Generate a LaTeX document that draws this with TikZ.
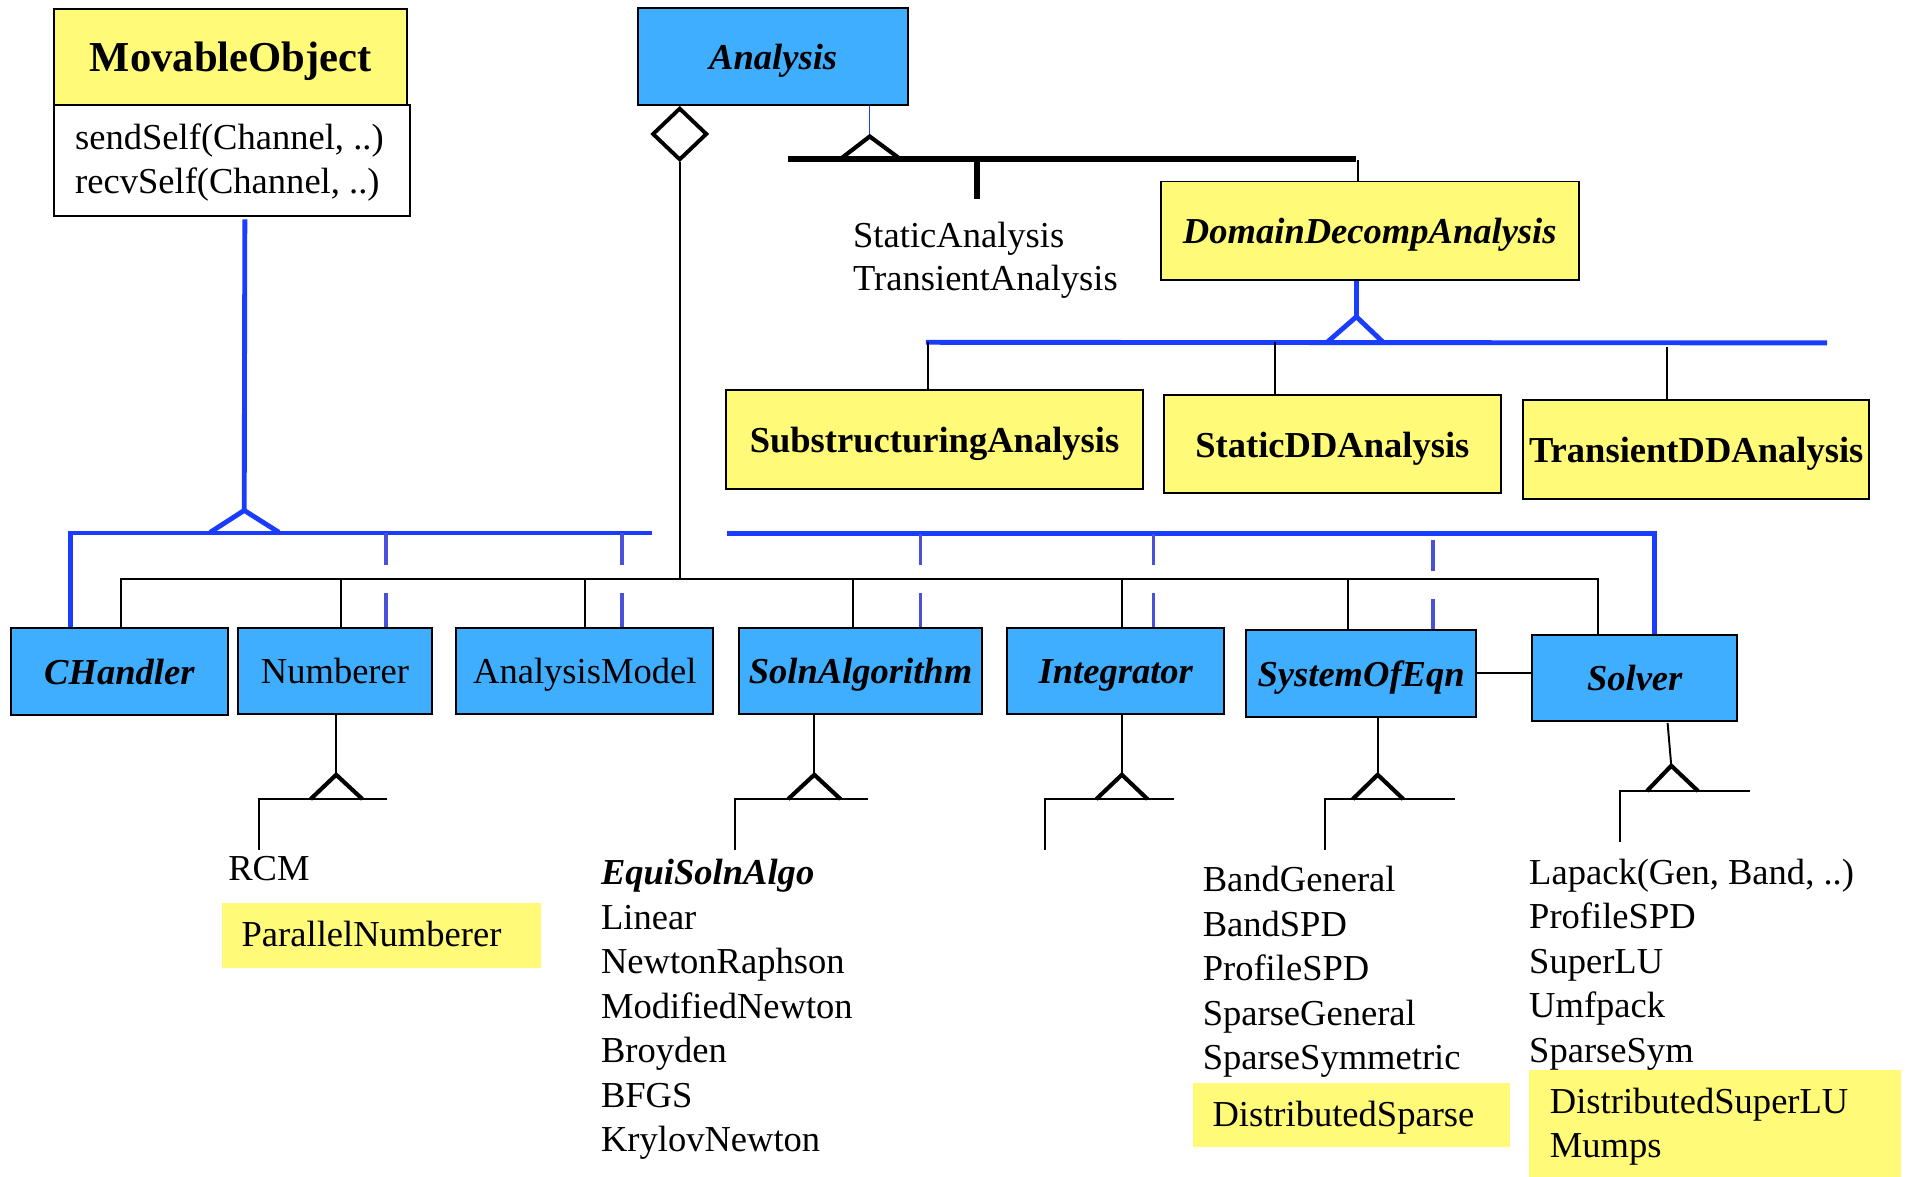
\documentclass[tikz,border=0pt]{standalone}
\usepackage{fontspec}
\setmainfont{Liberation Serif}
\usetikzlibrary{shapes.geometric}
\definecolor{ylw}{HTML}{FFFA78}
\definecolor{bbox}{HTML}{40AEFF}
\definecolor{bln}{HTML}{1A3CFF}
\definecolor{dln}{HTML}{4A50D8}
\begin{document}
\begin{tikzpicture}[x=0.5pt,y=-0.5pt,
 box/.style={draw=black, line width=0.8pt, inner sep=0pt, text height=12pt, text depth=1.5pt, font=\fontsize{15}{18}\selectfont},
 ybox/.style={box, fill=ylw},
 bbx/.style={box, fill=bbox},
 bf/.style={font=\fontsize{15}{18}\selectfont\bfseries},
 bi/.style={font=\fontsize{15}{18}\selectfont\bfseries\itshape},
 txt/.style={inner sep=0pt, anchor=base west, font=\fontsize{15}{18}\selectfont},
 yfill/.style={fill=ylw, inner sep=0pt, anchor=north west},
 thinln/.style={line width=0.8pt, black},
 thickln/.style={line width=2.3pt, black},
 triln/.style={line width=1.7pt, black, line join=miter},
 blueln/.style={line width=2pt, bln},
 bluetri/.style={line width=2pt, bln, line join=miter},
 dashln/.style={line width=1.5pt, dln, dash pattern=on 13pt off 11.5pt on 60pt},
]
\useasboundingbox (0,0) rectangle (1568,966);

% ---------- top boxes ----------
\node[ybox, font=\fontsize{17.5}{20}\selectfont\bfseries, text height=13.5pt, text depth=1.5pt, minimum width=145pt, minimum height=39.5pt] (mo) at (189.5,46.5) {MovableObject};
\node[draw=black, line width=0.8pt, inner sep=0pt, fill=white, minimum width=146pt, minimum height=45.5pt] (meth) at (190.5,131.5) {};
\node[txt] (m1) at (61.3,123) {sendSelf(Channel, ..)};
\node[txt] (m2) at (61.3,158.5) {recvSelf(Channel, ..)};
\node[bbx, bi, minimum width=110.75pt, minimum height=40pt] (an) at (634.75,46.5) {Analysis};
\node[diamond, draw=black, line width=1.6pt, fill=white, minimum width=22.5pt, minimum height=21.5pt, inner sep=0pt] (dia) at (558,110) {};
\node[ybox, bi, minimum width=171.5pt, minimum height=40.5pt] (dda) at (1124.5,189.5) {DomainDecompAnalysis};
\node[ybox, bf, minimum width=171.5pt, minimum height=40.5pt] (sub) at (767.2,361) {SubstructuringAnalysis};
\node[ybox, bf, minimum width=138.2pt, minimum height=40.35pt] (sdd) at (1093.8,364.7) {StaticDDAnalysis};
\node[ybox, bf, minimum width=142pt, minimum height=40.6pt] (tdd) at (1392.5,369) {TransientDDAnalysis};

\node[txt] (sta) at (700,203) {StaticAnalysis};
\node[txt] (tra) at (700,238.5) {TransientAnalysis};

% ---------- middle row ----------
\node[bbx, bi, minimum width=89pt, minimum height=35.6pt] (ch) at (98,551.3) {CHandler};
\node[bbx, minimum width=79.5pt, minimum height=35.3pt] (num) at (275,550.7) {Numberer};
\node[bbx, minimum width=105.6pt, minimum height=35.3pt] (am) at (480.1,550.7) {AnalysisModel};
\node[bbx, bi, minimum width=99.6pt, minimum height=35.2pt] (sa) at (706.4,550.8) {SolnAlgorithm};
\node[bbx, bi, minimum width=89pt, minimum height=35.2pt] (integ) at (916,550.8) {Integrator};
\node[bbx, bi, minimum width=94.4pt, minimum height=35.7pt] (soe) at (1117.4,552.7) {SystemOfEqn};
\node[bbx, bi, minimum width=84pt, minimum height=35.3pt] (sol) at (1342,556.7) {Solver};

% ---------- yellow backgrounds ----------
\node[yfill, minimum width=131pt, minimum height=26.5pt] (pnbg) at (182,741) {};
\node[yfill, minimum width=130.5pt, minimum height=26.3pt] (dsbg) at (978.6,889) {};
\node[yfill, minimum width=152.5pt, minimum height=44.2pt] (dslubg) at (1255,877.6) {};

% ---------- lists ----------
\node[txt] (rcm) at (187,722.5) {RCM};
\node[txt] (pn) at (198,777) {ParallelNumberer};

\node[txt, font=\fontsize{15}{18}\selectfont\bfseries\itshape] (esa) at (493,726.5) {EquiSolnAlgo};
\node[txt] (lin) at (493,763) {Linear};
\node[txt] (nr) at (493,799.5) {NewtonRaphson};
\node[txt] (mn) at (493,836) {ModifiedNewton};
\node[txt] (bro) at (493,872.5) {Broyden};
\node[txt] (bfgs) at (493,909) {BFGS};
\node[txt] (kn) at (493,945.5) {KrylovNewton};

\node[txt] (bg) at (987,732) {BandGeneral};
\node[txt] (bspd) at (987,768.5) {BandSPD};
\node[txt] (pspd) at (987,805) {ProfileSPD};
\node[txt] (sg) at (987,841.5) {SparseGeneral};
\node[txt] (ss) at (987,878) {SparseSymmetric};
\node[txt] (ds) at (995,924.5) {DistributedSparse};

\node[txt] (lap) at (1255,726) {Lapack(Gen, Band, ..)};
\node[txt] (pspd2) at (1255,762.5) {ProfileSPD};
\node[txt] (slu) at (1255,799) {SuperLU};
\node[txt] (umf) at (1255,835.5) {Umfpack};
\node[txt] (ssym) at (1255,872) {SparseSym};
\node[txt] (dslu) at (1272,914) {DistributedSuperLU};
\node[txt] (mum) at (1272,950.5) {Mumps};

% ---------- MovableObject hierarchy (blue) ----------
\coordinate (moA) at (201,180);
\coordinate (moT) at (200.5,419);
\draw[blueln] (moA) -- (moT);
\draw[bluetri] (172.5,437) -- (moT) -- (229,437);
\coordinate (bb1) at (58,437.5);
\coordinate (bb1e) at (535.5,437.5);
\draw[blueln] (bb1 |- ch.north) -- (bb1) -- (bb1e);
\coordinate (d1) at (316.7,437.5);
\coordinate (d2) at (510.7,437.5);
\draw[dashln] (d1) -- (d1 |- num.north);
\draw[dashln] (d2) -- (d2 |- am.north);
\coordinate (bb2s) at (597,438.2);
\coordinate (bb2c) at (1358.4,438.2);
\draw[blueln] (bb2s) -- (bb2c) -- (bb2c |- sol.north);
\coordinate (d3) at (755.6,438.2);
\coordinate (d4) at (947,438.2);
\coordinate (d5) at (1176.6,443);
\draw[dashln] (d3) -- (d3 |- sa.north);
\draw[dashln] (d4) -- (d4 |- integ.north);
\draw[dashln] (d5) -- (d5 |- soe.north);

% ---------- Analysis aggregation (black) ----------
\coordinate (kb1) at (99,475.3);
\coordinate (kb2) at (1311.5,475.3);
\draw[thinln] (dia.south) -- (dia.south |- kb1);
\draw[thinln] (kb1 |- ch.north) -- (kb1) -- (kb2) -- (kb2 |- sol.north);
\foreach \xx/\nn in {280/num, 480/am, 700/sa, 921/integ, 1106.6/soe}{
  \coordinate (k\nn) at (\xx,475.3);
  \draw[thinln] (k\nn) -- (k\nn |- \nn.north);
}

% ---------- Analysis subclasses ----------
\coordinate (anT) at (714,112);
\draw[line width=0.6pt, bln] (an.south -| anT) -- (anT);
\draw[triln] (690,130.5) -- (anT) -- (739,130.5);
\coordinate (tb1) at (647,130.5);
\coordinate (tb2) at (1113.5,130.5);
\draw[thickln] (tb1) -- (tb2);
\coordinate (tbv) at (802,130.5);
\coordinate (tbvE) at (802,163);
\draw[thickln] (tbv) -- (tbvE);
\coordinate (tb3) at (1115,131.5);
\draw[thinln] (tb3) -- (tb3 |- dda.north);

% ---------- DomainDecomp subclasses ----------
\coordinate (ddaT) at (1113.5,260);
\draw[blueln] (dda.south -| ddaT) -- (ddaT);
\draw[bluetri] (1090,280.5) -- (ddaT) -- (1135,280.5);
\coordinate (bb3s) at (760,281);
\coordinate (bb3e) at (1500,281.5);
\draw[blueln] (bb3s) -- (bb3e);
\coordinate (v1) at (761.6,281);
\coordinate (v2) at (1047,281);
\coordinate (v3) at (1368.6,284.5);
\draw[thinln] (v1) -- (v1 |- sub.north);
\draw[thinln] (v2) -- (v2 |- sdd.north);
\draw[thinln] (v3) -- (v3 |- tdd.north);

% ---------- SOE - Solver ----------
\draw[thinln] (soe.east) -- (soe.east -| sol.west);

% ---------- bottom inheritance ----------
% Numberer
\coordinate (nT) at (276,636);
\draw[thinln] (num.south -| nT) -- (nT);
\draw[triln] (255,656) -- (nT) -- (297.5,656);
\coordinate (nL) at (212.6,656);
\coordinate (nR) at (318,656);
\coordinate (nD) at (212.6,698);
\draw[thinln] (nR) -- (nL) -- (nD);
% SolnAlgorithm
\coordinate (sT) at (668.5,636);
\draw[thinln] (sa.south -| sT) -- (sT);
\draw[triln] (647,656) -- (sT) -- (690,656);
\coordinate (sL) at (603,656);
\coordinate (sR) at (712.5,656);
\coordinate (sD) at (603,698);
\draw[thinln] (sR) -- (sL) -- (sD);
% Integrator
\coordinate (iT) at (921,636);
\draw[thinln] (integ.south -| iT) -- (iT);
\draw[triln] (900,656) -- (iT) -- (942,656);
\coordinate (iL) at (858,656);
\coordinate (iR) at (963.5,656);
\coordinate (iD) at (858,698);
\draw[thinln] (iR) -- (iL) -- (iD);
% SystemOfEqn
\coordinate (eT) at (1131,636);
\draw[thinln] (soe.south -| eT) -- (eT);
\draw[triln] (1110.5,656) -- (eT) -- (1152,656);
\coordinate (eL) at (1088,656);
\coordinate (eR) at (1194.6,656);
\coordinate (eD) at (1088,698);
\draw[thinln] (eR) -- (eL) -- (eD);
% Solver
\coordinate (oA) at (1369,593.5);
\coordinate (oT) at (1372,628.6);
\draw[thinln] (oA) -- (oT);
\draw[triln] (1352,649.4) -- (oT) -- (1394,649.4);
\coordinate (oL) at (1330,649.4);
\coordinate (oR) at (1436.7,649.4);
\coordinate (oD) at (1330,691);
\draw[thinln] (oR) -- (oL) -- (oD);
\end{tikzpicture}
\end{document}
